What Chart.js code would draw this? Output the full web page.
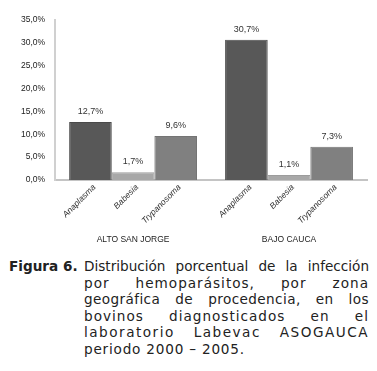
<!DOCTYPE html>
<html>
<head>
<meta charset="utf-8">
<script src="https://cdn.jsdelivr.net/npm/chart.js@4.4.0/dist/chart.umd.min.js"></script>
<style>
  body { margin: 0; background: #fff; }
  #wrap { position: absolute; left: 0; top: 0; width: 377px; height: 252px; }
  #caption { position: absolute; left: 0; top: 258px; width: 377px; font-family: "DejaVu Sans", Verdana, sans-serif; font-size: 13.6px; line-height: 16.6px; color: #222; }
  #caption .fig { position: absolute; left: 9px; top: 0; font-weight: bold; }
  #caption .txt { position: absolute; left: 84px; top: 0; width: 285px; }
  #caption .ln { text-align: justify; text-align-last: justify; white-space: nowrap; }
  #caption .l1 { letter-spacing: 0; }
  #caption .l2 { letter-spacing: 1px; }
  #caption .l3 { letter-spacing: 0.4px; }
  #caption .l4 { letter-spacing: 1px; }
  #caption .l5 { letter-spacing: 1.5px; }
  #caption .l6 { text-align-last: left; letter-spacing: 0.8px; }
</style>
</head>
<body>
<div id="wrap"><canvas id="barcanvas" width="377" height="252"></canvas></div>
<div id="caption">
  <div class="fig">Figura 6.</div>
  <div class="txt">
    <div class="ln l1">Distribución porcentual de la infección</div>
    <div class="ln l2">por hemoparásitos, por zona</div>
    <div class="ln l3">geográfica de procedencia, en los</div>
    <div class="ln l4">bovinos diagnosticados en el</div>
    <div class="ln l5">laboratorio Labevac ASOGAUCA</div>
    <div class="ln l6">periodo 2000 – 2005.</div>
  </div>
</div>
<script>
var zonas = ["ALTO SAN JORGE", "BAJO CAUCA"];
var parasitos = ["Anaplasma", "Babesia", "Trypanosoma"];
var anaplasma = [12.7, 30.7];
var babesia = [1.7, 1.1];
var trypanosoma = [9.6, 7.3];
var colores = ["#585858", "#a8a8a8", "#808080"];
var bordes = ["#4a4a4a", "#9c9c9c", "#747474"];

function pct(v) {
	return v.toFixed(1).replace(".", ",") + "%";
}

// value labels over bars + rotated parasite names under each bar
var etiquetas = {
	id: "etiquetas",
	afterDatasetsDraw: function(chart) {
		var ctx = chart.ctx;
		var base = chart.chartArea.bottom;
		ctx.save();
		chart.data.datasets.forEach(function(ds, i) {
			var meta = chart.getDatasetMeta(i);
			meta.data.forEach(function(bar, j) {
				ctx.fillStyle = "#333";
				ctx.font = "9px 'Liberation Sans', sans-serif";
				ctx.textAlign = "center";
				ctx.textBaseline = "bottom";
				ctx.fillText(pct(ds.data[j]), bar.x, bar.y - 6);

				ctx.save();
				ctx.translate(bar.x + 4, base + 6);
				ctx.rotate(-Math.PI / 4);
				ctx.font = "italic 8.5px 'Liberation Sans', sans-serif";
				ctx.textAlign = "right";
				ctx.textBaseline = "middle";
				ctx.fillStyle = "#333";
				ctx.fillText(ds.label, 0, 0);
				ctx.restore();
			});
		});
		ctx.restore();
	}
};

var chartdata = {
	labels: zonas,
	datasets: [
		{ label: parasitos[0], data: anaplasma, backgroundColor: colores[0], borderColor: bordes[0], borderWidth: 1 },
		{ label: parasitos[1], data: babesia, backgroundColor: colores[1], borderColor: bordes[1], borderWidth: 1 },
		{ label: parasitos[2], data: trypanosoma, backgroundColor: colores[2], borderColor: bordes[2], borderWidth: 1 }
	]
};

var ctx = document.getElementById("barcanvas");

var BarGraph = new Chart(ctx, {
	type: "bar",
	data: chartdata,
	options: {
		responsive: false,
		animation: false,
		layout: { padding: { top: 20, right: 10, left: 11, bottom: 0 } },
		plugins: {
			legend: { display: false },
			tooltip: { enabled: false }
		},
		datasets: { bar: { categoryPercentage: 0.82, barPercentage: 1.0 } },
		scales: {
			x: {
				grid: { display: false, drawTicks: false },
				border: { color: "#c4c4c4", width: 2 },
				ticks: { color: "#222", padding: 55, font: { family: "'Liberation Sans', sans-serif", size: 8.5 } },
				afterFit: function(scale) { scale.height = 72; }
			},
			y: {
				min: 0,
				max: 35,
				grid: { display: false, drawTicks: false },
				border: { color: "#d0d0d0", width: 2 },
				ticks: {
					stepSize: 5,
					padding: 10,
					color: "#222",
					font: { family: "'Liberation Sans', sans-serif", size: 8.5 },
					callback: function(v) { return pct(v); }
				}
			}
		}
	},
	plugins: [etiquetas]
});
</script>
</body>
</html>
